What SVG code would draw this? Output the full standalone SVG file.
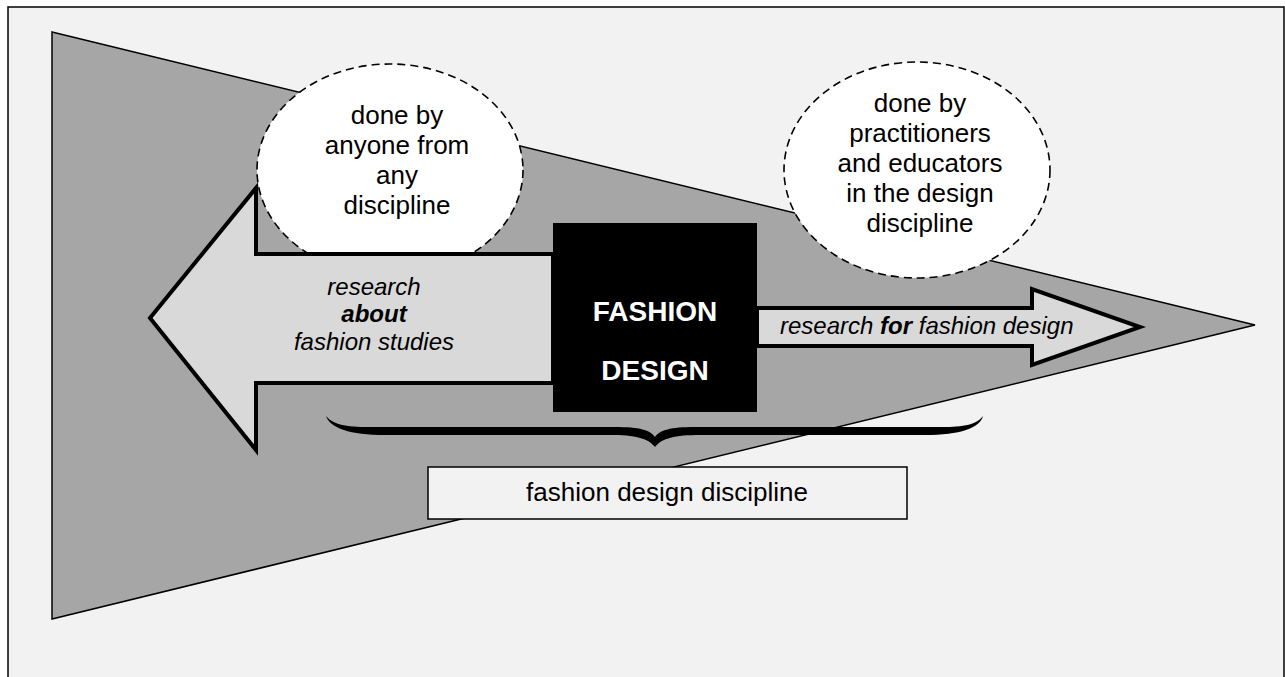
<svg xmlns="http://www.w3.org/2000/svg" width="1285" height="677" viewBox="0 0 1285 677">
<style>
  text { font-family: "Liberation Sans", Arial, sans-serif; fill: #000; }
  .bubble { fill: #ffffff; stroke: #000; stroke-width: 1.6; stroke-dasharray: 8 5; }
  .arrow { fill: #d9d9d9; stroke: #000; stroke-width: 4; stroke-linejoin: miter; }
  .label { font-size: 26px; text-anchor: middle; }
  .ital { font-size: 24px; font-style: italic; }
  .title { font-size: 28px; font-weight: bold; fill: #ffffff; text-anchor: middle; }
</style>
<rect x="0" y="0" width="1285" height="677" fill="#ffffff"/>
<rect id="frame" x="8" y="7" width="1276" height="690" fill="#f2f2f2" stroke="#000" stroke-width="1.5"/>
<g id="triangle">
  <polygon points="52,32 1255,325 52,619" fill="#a6a6a6" stroke="#000" stroke-width="1.5" stroke-linejoin="miter"/>
</g>
<g id="bubble-any">
  <ellipse class="bubble" cx="390" cy="170" rx="133" ry="106"/>
  <text class="label" x="397" y="124">done by</text>
  <text class="label" x="397" y="154">anyone from</text>
  <text class="label" x="397" y="184">any</text>
  <text class="label" x="397" y="214">discipline</text>
</g>
<g id="bubble-design">
  <ellipse class="bubble" cx="917" cy="170" rx="133" ry="108"/>
  <text class="label" x="920" y="112">done by</text>
  <text class="label" x="920" y="142">practitioners</text>
  <text class="label" x="920" y="172">and educators</text>
  <text class="label" x="920" y="202">in the design</text>
  <text class="label" x="920" y="232">discipline</text>
</g>
<g id="connectors">
  <g id="arrow-about">
    <polygon class="arrow" points="553,254 256,254 256,188 150,318 256,450 256,383 553,383"/>
    <text class="ital" x="374" y="295" text-anchor="middle">research</text>
    <text class="ital" x="374" y="322" text-anchor="middle" font-weight="bold">about</text>
    <text class="ital" x="374" y="350" text-anchor="middle">fashion studies</text>
  </g>
  <g id="arrow-for">
    <polygon class="arrow" points="757,308 1032,308 1032,289 1140,327 1032,365 1032,346 757,346"/>
    <text class="ital" x="780" y="334">research <tspan font-weight="bold">for</tspan> fashion design</text>
  </g>
  <g id="brace">
    <path d="M326,416 C336,428 355,427 385,427 L615,427 C640,427 650,430 655,437 C660,430 670,427 695,427 L925,427 C955,427 974,428 983,416 C980,428 960,435 925,435 L700,435 C675,435 662,438 655,447 C648,438 635,435 610,435 L385,435 C350,435 330,428 326,416 Z" fill="#000"/>
  </g>
</g>
<g id="fashion-design">
  <rect x="553" y="223" width="204" height="189" fill="#000"/>
  <text class="title" x="655" y="321">FASHION</text>
  <text class="title" x="655" y="380">DESIGN</text>
</g>
<g id="discipline-box">
  <rect x="428" y="467" width="479" height="52" fill="#f2f2f2" stroke="#000" stroke-width="1.5"/>
  <text class="label" x="667" y="501">fashion design discipline</text>
</g>
</svg>
